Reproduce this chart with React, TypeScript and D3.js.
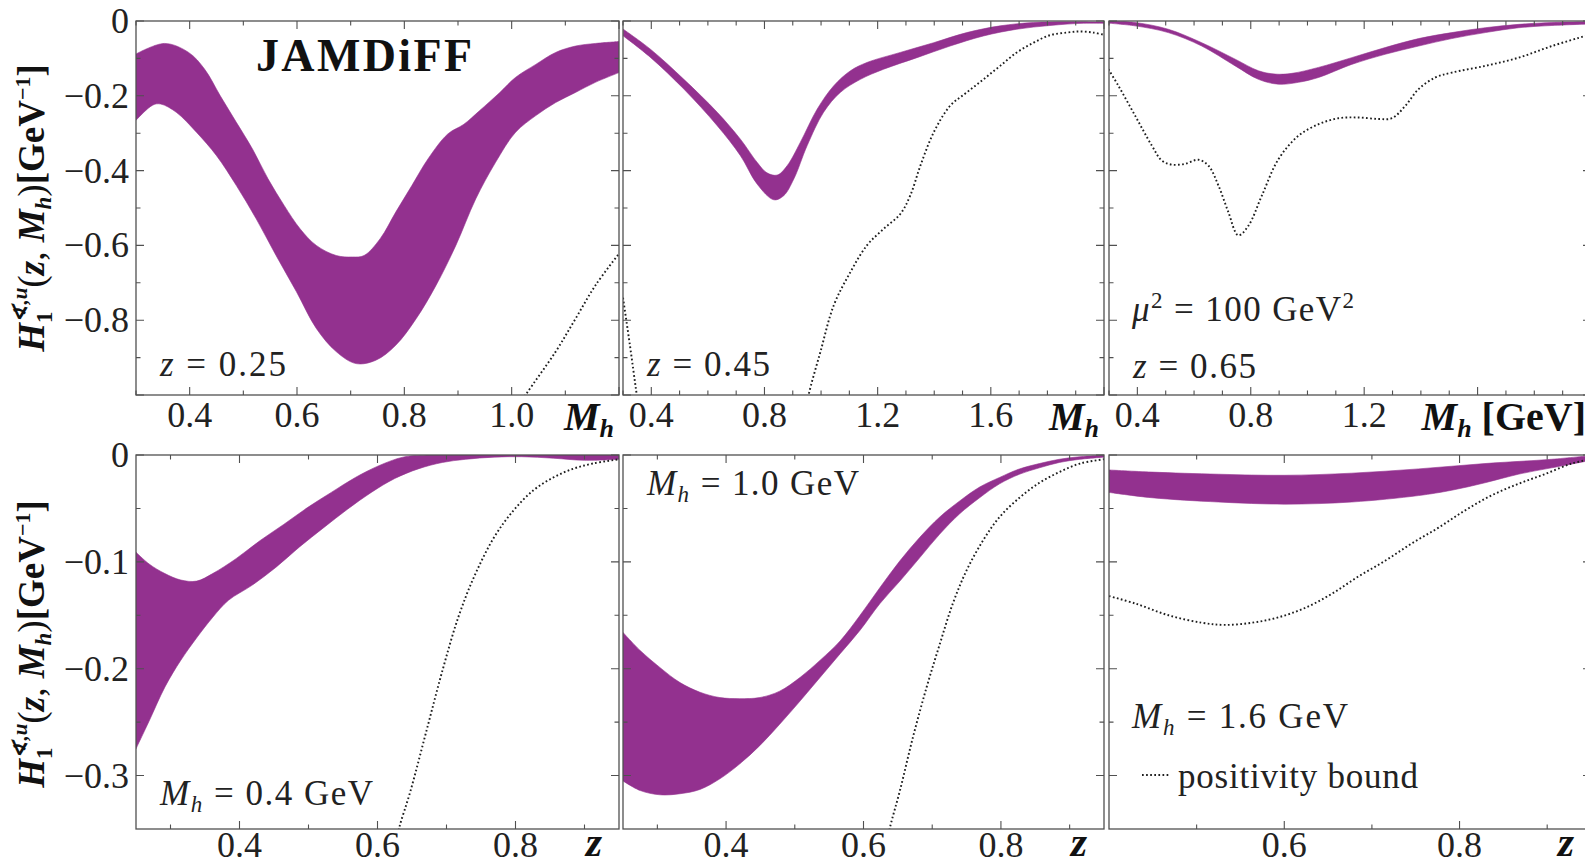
import React from "react";
import * as d3 from "d3";

type P = [number, number];

// ---------------- DATA ----------------
// Top row: H1(z, Mh) vs Mh [GeV] at fixed z;  bottom row: vs z at fixed Mh
const A_UP: P[] = [[0.299,-0.089],[0.353,-0.060],[0.398,-0.084],[0.428,-0.129],[0.457,-0.200],[0.487,-0.271],[0.517,-0.342],[0.546,-0.422],[0.576,-0.493],[0.606,-0.556],[0.636,-0.600],[0.673,-0.627],[0.703,-0.631],[0.725,-0.627],[0.755,-0.582],[0.784,-0.511],[0.814,-0.440],[0.844,-0.369],[0.881,-0.302],[0.911,-0.276],[0.94,-0.24],[0.978,-0.191],[1.007,-0.151],[1.045,-0.116],[1.082,-0.084],[1.119,-0.067],[1.156,-0.06],[1.2,-0.055]];
const A_LO: P[] = [[0.299,-0.267],[0.331,-0.225],[0.346,-0.222],[0.375,-0.244],[0.413,-0.298],[0.45,-0.36],[0.487,-0.44],[0.524,-0.529],[0.561,-0.627],[0.599,-0.724],[0.636,-0.822],[0.673,-0.884],[0.71,-0.916],[0.747,-0.907],[0.784,-0.867],[0.822,-0.796],[0.859,-0.707],[0.896,-0.6],[0.933,-0.476],[0.97,-0.378],[1.007,-0.298],[1.045,-0.253],[1.082,-0.218],[1.119,-0.191],[1.156,-0.164],[1.2,-0.138]];
const A_BOUND: P[] = [[1.0,-1.06],[1.026,-1.0],[1.082,-0.884],[1.119,-0.796],[1.156,-0.707],[1.2,-0.622]];

const B_UP: P[] = [[0.301,-0.022],[0.398,-0.076],[0.515,-0.156],[0.633,-0.244],[0.715,-0.316],[0.774,-0.378],[0.809,-0.406],[0.845,-0.412],[0.88,-0.387],[0.927,-0.324],[0.986,-0.236],[1.045,-0.173],[1.104,-0.133],[1.162,-0.111],[1.28,-0.084],[1.398,-0.058],[1.515,-0.031],[1.633,-0.013],[1.751,-0.004],[1.868,-0.002],[2.0,-0.003]];
const B_LO: P[] = [[0.301,-0.04],[0.398,-0.098],[0.515,-0.182],[0.633,-0.28],[0.715,-0.36],[0.774,-0.436],[0.833,-0.478],[0.868,-0.467],[0.904,-0.422],[0.951,-0.333],[1.009,-0.244],[1.068,-0.191],[1.139,-0.156],[1.221,-0.129],[1.339,-0.098],[1.456,-0.067],[1.574,-0.04],[1.692,-0.022],[1.809,-0.012],[1.927,-0.006],[2.0,-0.006]];
const B_BOUND_LOW: P[] = [[0.3,-0.74],[0.325,-0.87],[0.345,-0.98],[0.36,-1.06]];
const B_BOUND_HIGH: P[] = [[0.945,-1.05],[0.956,-1.0],[0.998,-0.884],[1.045,-0.76],[1.104,-0.671],[1.162,-0.6],[1.221,-0.556],[1.28,-0.516],[1.315,-0.467],[1.351,-0.387],[1.398,-0.298],[1.456,-0.227],[1.515,-0.191],[1.574,-0.156],[1.633,-0.12],[1.692,-0.084],[1.751,-0.058],[1.809,-0.038],[1.868,-0.031],[1.915,-0.028],[1.962,-0.031],[2.0,-0.037]];

const C_UP: P[] = [[0.3,0],[0.392,-0.004],[0.509,-0.022],[0.627,-0.058],[0.745,-0.102],[0.827,-0.133],[0.886,-0.142],[0.945,-0.14],[1.039,-0.124],[1.156,-0.098],[1.274,-0.071],[1.392,-0.047],[1.509,-0.031],[1.627,-0.018],[1.745,-0.009],[1.862,-0.004],[2.0,-0.002]];
const C_LO: P[] = [[0.3,-0.006],[0.392,-0.013],[0.509,-0.031],[0.627,-0.067],[0.745,-0.12],[0.827,-0.156],[0.898,-0.169],[0.968,-0.164],[1.039,-0.151],[1.156,-0.116],[1.274,-0.089],[1.392,-0.067],[1.509,-0.047],[1.627,-0.031],[1.745,-0.018],[1.862,-0.012],[2.0,-0.008]];
const C_BOUND: P[] = [[0.298,-0.129],[0.333,-0.173],[0.392,-0.253],[0.451,-0.333],[0.486,-0.373],[0.521,-0.384],[0.568,-0.382],[0.615,-0.371],[0.651,-0.387],[0.686,-0.44],[0.721,-0.511],[0.756,-0.573],[0.792,-0.547],[0.839,-0.467],[0.898,-0.369],[0.968,-0.307],[1.039,-0.276],[1.109,-0.26],[1.18,-0.258],[1.251,-0.262],[1.298,-0.26],[1.345,-0.227],[1.392,-0.182],[1.451,-0.151],[1.509,-0.138],[1.627,-0.12],[1.745,-0.098],[1.862,-0.067],[1.98,-0.04],[2.0,-0.036]];

const D_UP: P[] = [[0.25,-0.091],[0.269,-0.102],[0.292,-0.111],[0.315,-0.117],[0.338,-0.118],[0.361,-0.111],[0.395,-0.097],[0.43,-0.08],[0.464,-0.065],[0.499,-0.049],[0.533,-0.035],[0.568,-0.021],[0.602,-0.01],[0.637,-0.002],[0.671,0],[0.75,0],[0.85,0],[0.95,0]];
const D_LO: P[] = [[0.25,-0.275],[0.269,-0.249],[0.292,-0.217],[0.315,-0.192],[0.338,-0.171],[0.361,-0.152],[0.384,-0.136],[0.418,-0.122],[0.453,-0.105],[0.487,-0.086],[0.522,-0.068],[0.556,-0.051],[0.591,-0.035],[0.625,-0.022],[0.659,-0.013],[0.694,-0.007],[0.728,-0.004],[0.769,-0.002],[0.809,-0.0016],[0.855,-0.003],[0.9,-0.005],[0.95,-0.004]];
const D_BOUND: P[] = [[0.625,-0.37],[0.631,-0.35],[0.648,-0.314],[0.671,-0.258],[0.694,-0.202],[0.717,-0.152],[0.74,-0.114],[0.769,-0.077],[0.797,-0.052],[0.826,-0.033],[0.855,-0.021],[0.883,-0.013],[0.912,-0.008],[0.95,-0.004]];

const E_UP: P[] = [[0.25,-0.166],[0.275,-0.183],[0.304,-0.199],[0.333,-0.213],[0.362,-0.222],[0.391,-0.227],[0.42,-0.228],[0.449,-0.227],[0.478,-0.221],[0.508,-0.208],[0.537,-0.192],[0.566,-0.174],[0.595,-0.15],[0.624,-0.124],[0.653,-0.099],[0.682,-0.077],[0.711,-0.058],[0.74,-0.043],[0.769,-0.03],[0.798,-0.021],[0.827,-0.013],[0.856,-0.008],[0.885,-0.004],[0.915,-0.0016],[0.95,-0.0003]];
const E_LO: P[] = [[0.25,-0.305],[0.275,-0.314],[0.304,-0.318],[0.333,-0.317],[0.362,-0.313],[0.391,-0.303],[0.42,-0.289],[0.449,-0.272],[0.478,-0.252],[0.508,-0.23],[0.537,-0.208],[0.566,-0.186],[0.595,-0.164],[0.624,-0.139],[0.653,-0.118],[0.682,-0.096],[0.711,-0.074],[0.74,-0.055],[0.769,-0.04],[0.798,-0.027],[0.827,-0.018],[0.856,-0.012],[0.885,-0.007],[0.915,-0.004],[0.95,-0.002]];
const E_BOUND: P[] = [[0.632,-0.37],[0.638,-0.35],[0.653,-0.314],[0.672,-0.264],[0.692,-0.217],[0.711,-0.177],[0.73,-0.139],[0.75,-0.108],[0.774,-0.08],[0.798,-0.058],[0.827,-0.04],[0.856,-0.026],[0.885,-0.016],[0.915,-0.008],[0.95,-0.004]];

const F_UP: P[] = [[0.4,-0.014],[0.449,-0.016],[0.525,-0.018],[0.6,-0.019],[0.677,-0.017],[0.753,-0.013],[0.829,-0.008],[0.905,-0.004],[0.95,-0.0005]];
const F_LO: P[] = [[0.4,-0.035],[0.449,-0.04],[0.525,-0.044],[0.6,-0.046],[0.677,-0.044],[0.753,-0.038],[0.791,-0.033],[0.829,-0.026],[0.867,-0.018],[0.905,-0.012],[0.95,-0.005]];
const F_BOUND: P[] = [[0.4,-0.132],[0.43,-0.139],[0.468,-0.15],[0.506,-0.157],[0.532,-0.159],[0.563,-0.157],[0.593,-0.152],[0.624,-0.143],[0.654,-0.13],[0.684,-0.114],[0.715,-0.099],[0.745,-0.083],[0.776,-0.068],[0.806,-0.052],[0.836,-0.038],[0.867,-0.027],[0.897,-0.018],[0.928,-0.008],[0.95,-0.004]];

// Ticks
const X_MAJOR_A = [0.4, 0.6, 0.8, 1.0, 1.2];
const X_LABELS_A = [0.4, 0.6, 0.8, 1.0];
const X_MAJOR_BC = [0.4, 0.8, 1.2, 1.6, 2.0];
const X_LABELS_B = [0.4, 0.8, 1.2, 1.6];
const X_LABELS_C = [0.4, 0.8, 1.2];
const X_MAJOR_Z = [0.4, 0.6, 0.8];
const X_LABELS_DE = [0.4, 0.6, 0.8];
const X_LABELS_F = [0.6, 0.8];
const Y_MAJOR_TOP = [0, -0.2, -0.4, -0.6, -0.8, -1.0];
const Y_LABELS_TOP = [0, -0.2, -0.4, -0.6, -0.8];
const Y_MAJOR_BOT = [0, -0.1, -0.2, -0.3];
const Y_LABELS_BOT = [0, -0.1, -0.2, -0.3];

// ---------------- LAYOUT ----------------
const W = 1585, H = 866;
const COLS = [[136, 619], [623, 1104], [1109, 1591]];
const ROWS = [[21, 395], [455, 829]];
const PURPLE = "#93318f";
const FRAME = "#505050";
const FONT = "'Liberation Serif', 'DejaVu Serif', serif";
const TICK_FS = 36;

const rangeStep = (a: number, b: number, s: number) => {
  const out: number[] = [];
  const n = Math.round((b - a) / s);
  for (let i = 0; i <= n; i++) out.push(+(a + i * s).toFixed(4));
  return out;
};

interface PanelDef {
  id: string; row: number; col: number; xDom: [number, number]; yDom: [number, number];
  up: P[]; lo: P[]; bounds: P[][];
  xMajor: number[]; xMinor: number[]; xLabels: number[];
  yMajor: number[]; yMinor: number[]; yLabels: number[];
}

const notIn = (arr: number[], maj: number[]) => arr.filter(v => !maj.some(m => Math.abs(m - v) < 1e-6));

const PANELS: PanelDef[] = [
  { id: "A", row: 0, col: 0, xDom: [0.3, 1.2], yDom: [-1, 0], up: A_UP, lo: A_LO, bounds: [A_BOUND],
    xMajor: X_MAJOR_A, xMinor: notIn(rangeStep(0.3, 1.2, 0.1), X_MAJOR_A), xLabels: X_LABELS_A,
    yMajor: Y_MAJOR_TOP, yMinor: notIn(rangeStep(-1, 0, 0.1), Y_MAJOR_TOP), yLabels: Y_LABELS_TOP },
  { id: "B", row: 0, col: 1, xDom: [0.3, 2.0], yDom: [-1, 0], up: B_UP, lo: B_LO, bounds: [B_BOUND_LOW, B_BOUND_HIGH],
    xMajor: X_MAJOR_BC, xMinor: notIn(rangeStep(0.3, 2.0, 0.1), X_MAJOR_BC), xLabels: X_LABELS_B,
    yMajor: Y_MAJOR_TOP, yMinor: notIn(rangeStep(-1, 0, 0.1), Y_MAJOR_TOP), yLabels: [] },
  { id: "C", row: 0, col: 2, xDom: [0.3, 2.0], yDom: [-1, 0], up: C_UP, lo: C_LO, bounds: [C_BOUND],
    xMajor: X_MAJOR_BC, xMinor: notIn(rangeStep(0.3, 2.0, 0.1), X_MAJOR_BC), xLabels: X_LABELS_C,
    yMajor: Y_MAJOR_TOP, yMinor: notIn(rangeStep(-1, 0, 0.1), Y_MAJOR_TOP), yLabels: [] },
  { id: "D", row: 1, col: 0, xDom: [0.25, 0.95], yDom: [-0.35, 0], up: D_UP, lo: D_LO, bounds: [D_BOUND],
    xMajor: X_MAJOR_Z, xMinor: [0.3, 0.5, 0.7, 0.9], xLabels: X_LABELS_DE,
    yMajor: Y_MAJOR_BOT, yMinor: [-0.05, -0.15, -0.25], yLabels: Y_LABELS_BOT },
  { id: "E", row: 1, col: 1, xDom: [0.25, 0.95], yDom: [-0.35, 0], up: E_UP, lo: E_LO, bounds: [E_BOUND],
    xMajor: X_MAJOR_Z, xMinor: [0.3, 0.5, 0.7, 0.9], xLabels: X_LABELS_DE,
    yMajor: Y_MAJOR_BOT, yMinor: [-0.05, -0.15, -0.25], yLabels: [] },
  { id: "F", row: 1, col: 2, xDom: [0.4, 0.95], yDom: [-0.35, 0], up: F_UP, lo: F_LO, bounds: [F_BOUND],
    xMajor: [0.6, 0.8], xMinor: [0.5, 0.7, 0.9], xLabels: X_LABELS_F,
    yMajor: Y_MAJOR_BOT, yMinor: [-0.05, -0.15, -0.25], yLabels: [] },
];

const fmtX = (v: number) => v.toFixed(1);
const fmtY = (v: number) => (Math.abs(v) < 1e-9 ? "0" : "\u2212" + Math.abs(v).toFixed(1));

const DOT = { stroke: "#1e1e1e", strokeWidth: 1.9, strokeDasharray: "1.7 2.4" };

function Panel({ p }: { p: PanelDef }) {
  const [x0, x1] = COLS[p.col];
  const [y0, y1] = ROWS[p.row];
  const xs = d3.scaleLinear().domain(p.xDom).range([x0, x1]);
  const ys = d3.scaleLinear().domain(p.yDom).range([y1, y0]);
  const line = d3.line<P>().x(d => xs(d[0])).y(d => ys(d[1])).curve(d3.curveCatmullRom.alpha(0.5));
  const band = (line(p.up) || "") + (line([...p.lo].reverse()) || "").replace(/^M/, "L") + "Z";
  const clipId = "clip" + p.id;
  const MAJ = 8, MIN = 4.5;
  let ticks = "";
  const inX = (v: number) => v >= p.xDom[0] - 1e-9 && v <= p.xDom[1] + 1e-9;
  const inY = (v: number) => v >= p.yDom[0] - 1e-9 && v <= p.yDom[1] + 1e-9;
  p.xMajor.filter(inX).forEach(v => { const x = xs(v); ticks += `M${x},${y1}V${y1 - MAJ}M${x},${y0}V${y0 + MAJ}`; });
  p.xMinor.filter(inX).forEach(v => { const x = xs(v); ticks += `M${x},${y1}V${y1 - MIN}M${x},${y0}V${y0 + MIN}`; });
  p.yMajor.filter(inY).forEach(v => { const y = ys(v); ticks += `M${x0},${y}H${x0 + MAJ}M${x1},${y}H${x1 - MAJ}`; });
  p.yMinor.filter(inY).forEach(v => { const y = ys(v); ticks += `M${x0},${y}H${x0 + MIN}M${x1},${y}H${x1 - MIN}`; });
  const labY = p.row === 0 ? y1 + 32 : y1 + 28;
  return (
    <g>
      <defs>
        <clipPath id={clipId}><rect x={x0} y={y0} width={x1 - x0} height={y1 - y0} /></clipPath>
      </defs>
      <g clipPath={`url(#${clipId})`}>
        <path d={band} fill={PURPLE} stroke={PURPLE} strokeWidth={0.6} />
        {p.bounds.map((b, i) => (
          <path key={i} d={line(b) || ""} fill="none" {...DOT} />
        ))}
      </g>
      <rect x={x0} y={y0} width={x1 - x0} height={y1 - y0} fill="none" stroke={FRAME} strokeWidth={1.3} />
      <path d={ticks} stroke={FRAME} strokeWidth={1.1} fill="none" />
      {p.xLabels.map(v => (
        <text key={"xl" + v} x={xs(v)} y={labY} textAnchor="middle" fontSize={TICK_FS} fontFamily={FONT} fill="#222">{fmtX(v)}</text>
      ))}
      {p.yLabels.map(v => (
        <text key={"yl" + v} x={129} y={ys(v) + 12} textAnchor="end" fontSize={TICK_FS} fontFamily={FONT} fill="#222">{fmtY(v)}</text>
      ))}
    </g>
  );
}

function YLabel({ cy }: { cy: number }) {
  return (
    <text transform={`translate(44,${cy}) rotate(-90)`} textAnchor="middle" fontSize={37} fontFamily={FONT} fontWeight="bold" fill="#111">
      <tspan fontStyle="italic">H</tspan>
      <tspan fontSize={23} dy={8}>1</tspan>
      <tspan fontSize={21} dx={-11} dy={-25} fontStyle="italic">{"\u2222,u"}</tspan>
      <tspan dy={17} fontWeight="normal">(</tspan>
      <tspan fontStyle="italic">z</tspan>
      <tspan fontWeight="normal">{", "}</tspan>
      <tspan fontStyle="italic">M</tspan>
      <tspan fontSize={23} dy={7} fontStyle="italic">h</tspan>
      <tspan dy={-7} fontWeight="normal">)</tspan>
      <tspan>[GeV</tspan>
      <tspan fontSize={22} dy={-14}>{"\u22121"}</tspan>
      <tspan dy={14}>]</tspan>
    </text>
  );
}

function Ann({ x, y, len, children }: { x: number; y: number; len: number; children: React.ReactNode }) {
  return (
    <text x={x} y={y} fontSize={35} fontFamily={FONT} fill="#222" textLength={len} lengthAdjust="spacing">{children}</text>
  );
}

export default function App() {
  const [c1, c2, c3] = COLS;
  const [r1, r2] = ROWS;
  return (
    <svg width={W} height={H} viewBox={`0 0 ${W} ${H}`} style={{ position: "fixed", left: 0, top: 0, background: "#fff" }}>
      <rect x={0} y={0} width={W} height={H} fill="#fff" />
      {PANELS.map(p => <Panel key={p.id} p={p} />)}

      <YLabel cy={(r1[0] + r1[1]) / 2} />
      <YLabel cy={(r2[0] + r2[1]) / 2 + 2} />

      <text x={256} y={71} fontSize={46} fontWeight="bold" fontFamily={FONT} fill="#111" textLength={216} lengthAdjust="spacing">JAMDiFF</text>

      {/* x-axis labels */}
      <text x={c1[1] - 5} y={430} textAnchor="end" fontSize={40} fontWeight="bold" fontFamily={FONT} fill="#111">
        <tspan fontStyle="italic">M</tspan><tspan fontSize={26} dy={7} fontStyle="italic">h</tspan>
      </text>
      <text x={c2[1] - 5} y={430} textAnchor="end" fontSize={40} fontWeight="bold" fontFamily={FONT} fill="#111">
        <tspan fontStyle="italic">M</tspan><tspan fontSize={26} dy={7} fontStyle="italic">h</tspan>
      </text>
      <text x={c3[1] - 5} y={430} textAnchor="end" fontSize={40} fontWeight="bold" fontFamily={FONT} fill="#111">
        <tspan fontStyle="italic">M</tspan><tspan fontSize={26} dy={7} fontStyle="italic">h</tspan><tspan dy={-7}>{" [GeV]"}</tspan>
      </text>
      {[c1, c2, c3].map((c, i) => (
        <text key={"z" + i} x={c[1] - 17} y={856} textAnchor="end" fontSize={42} fontWeight="bold" fontStyle="italic" fontFamily={FONT} fill="#111">z</text>
      ))}

      {/* annotations */}
      <Ann x={160} y={376} len={126}><tspan fontStyle="italic">z</tspan>{" = 0.25"}</Ann>
      <Ann x={647} y={376} len={123}><tspan fontStyle="italic">z</tspan>{" = 0.45"}</Ann>
      <Ann x={1133} y={378} len={123}><tspan fontStyle="italic">z</tspan>{" = 0.65"}</Ann>
      <Ann x={1132} y={321} len={222}>
        <tspan fontStyle="italic">{"\u03bc"}</tspan><tspan fontSize={23} dy={-13}>2</tspan><tspan dy={13}>{" = 100 GeV"}</tspan><tspan fontSize={23} dy={-13}>2</tspan>
      </Ann>
      <Ann x={160} y={805} len={213}><tspan fontStyle="italic">M</tspan><tspan fontSize={23} dy={7} fontStyle="italic">h</tspan><tspan dy={-7}>{" = 0.4 GeV"}</tspan></Ann>
      <Ann x={647} y={495} len={212}><tspan fontStyle="italic">M</tspan><tspan fontSize={23} dy={7} fontStyle="italic">h</tspan><tspan dy={-7}>{" = 1.0 GeV"}</tspan></Ann>
      <Ann x={1132} y={728} len={216}><tspan fontStyle="italic">M</tspan><tspan fontSize={23} dy={7} fontStyle="italic">h</tspan><tspan dy={-7}>{" = 1.6 GeV"}</tspan></Ann>

      {/* legend */}
      <line x1={1142} x2={1169} y1={775} y2={775} {...DOT} />
      <Ann x={1178} y={788} len={240}>positivity bound</Ann>
    </svg>
  );
}
